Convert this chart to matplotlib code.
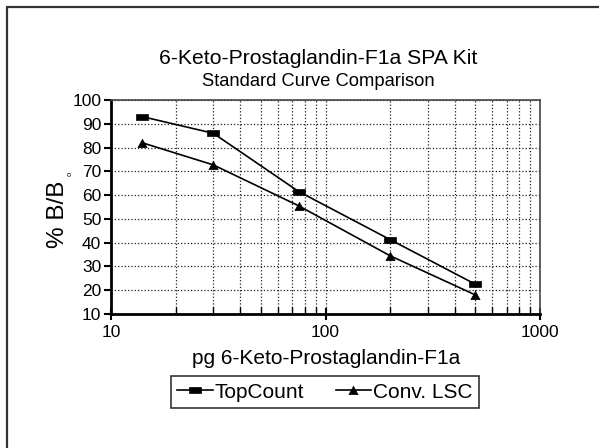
import matplotlib
matplotlib.use("Agg")
import matplotlib.pyplot as plt
from matplotlib.patches import Rectangle
from matplotlib.ticker import FixedLocator, FixedFormatter, LogLocator, NullFormatter

plt.rcParams['font.family'] = ['Liberation Sans', 'DejaVu Sans']

# standard amounts (pg) and % B/Bo for the two counters
dose = [14, 30, 75, 200, 500]
topcount = [93, 86, 61.5, 41.3, 22.5]
conv_lsc = [82, 72.7, 55.5, 34.5, 18]

# flat square and triangle as drawn in the original
flat_square = [(-1, -0.47), (1, -0.47), (1, 0.47), (-1, 0.47), (-1, -0.47)]
flat_triangle = [(0, 0.9), (-1, -0.9), (1, -0.9), (0, 0.9)]

fig = plt.figure(figsize=(5.99, 4.48), dpi=100)

# outer frame (right and bottom edges fall outside the picture)
fig.patches.append(Rectangle((7 / 599, -0.1), 1.2, 1 - 7.5 / 448 + 0.1,
                             transform=fig.transFigure, fill=False,
                             edgecolor='#333333', linewidth=1.6))

ax = fig.add_axes([111 / 599, 1 - 314 / 448, 429 / 599, 214 / 448])

ax.plot(dose, topcount, color='black', lw=1.2, marker=flat_square, ms=9.3,
        mfc='black', mec='black', mew=0.5, label='TopCount')
ax.plot(dose, conv_lsc, color='black', lw=1.2, marker=flat_triangle, ms=6.6,
        mfc='black', mec='black', mew=0.5, label='Conv. LSC')

ax.set_xscale('log')
ax.set_xlim(10, 1000)
ax.set_ylim(10, 100)
ax.xaxis.set_major_locator(FixedLocator([10, 100, 1000]))
ax.xaxis.set_major_formatter(FixedFormatter(['10', '100', '1000']))
ax.xaxis.set_minor_locator(LogLocator(base=10, subs=range(2, 10)))
ax.xaxis.set_minor_formatter(NullFormatter())
ax.set_yticks(range(10, 101, 10))

ax.grid(True, which='both', axis='x', linestyle=':', color='#222222', lw=0.9)
ax.grid(True, which='major', axis='y', linestyle=':', color='#222222', lw=0.9)

for s in ['left', 'bottom']:
    ax.spines[s].set_linewidth(2)
    ax.spines[s].set_color('black')
for s in ['top', 'right']:
    ax.spines[s].set_linewidth(1.2)
    ax.spines[s].set_color('#444444')

ax.tick_params(axis='y', direction='out', length=5, width=1.5, labelsize=12.5, pad=2)
ax.tick_params(axis='x', which='major', direction='inout', length=8, width=1.5,
               labelsize=12.5, pad=4)
ax.tick_params(axis='x', which='minor', direction='in', length=5, width=1)

fig.text(326 / 599, 1 - 358 / 448, 'pg 6-Keto-Prostaglandin-F1a',
         ha='center', va='center', fontsize=15)
fig.text(58 / 599, 1 - 214 / 448, '% B/B', rotation=90,
         ha='center', va='center', fontsize=17.5)
fig.text(70 / 599, 1 - 174 / 448, 'o', rotation=90,
         ha='center', va='center', fontsize=5.5)

fig.text(318.5 / 599, 1 - 59 / 448, '6-Keto-Prostaglandin-F1a SPA Kit',
         ha='center', va='center', fontsize=15.2)
fig.text(318 / 599, 1 - 81 / 448, 'Standard Curve Comparison',
         ha='center', va='center', fontsize=13.2)

leg = fig.legend(loc='center', bbox_to_anchor=(325 / 599, 1 - 392 / 448), ncol=2,
                 fontsize=15, frameon=True, fancybox=False, handlelength=1.7,
                 handletextpad=0.1, columnspacing=1.5, borderpad=0.3)
leg.get_frame().set_edgecolor('black')
leg.get_frame().set_linewidth(1.2)

fig.savefig('out.png', dpi=100)
